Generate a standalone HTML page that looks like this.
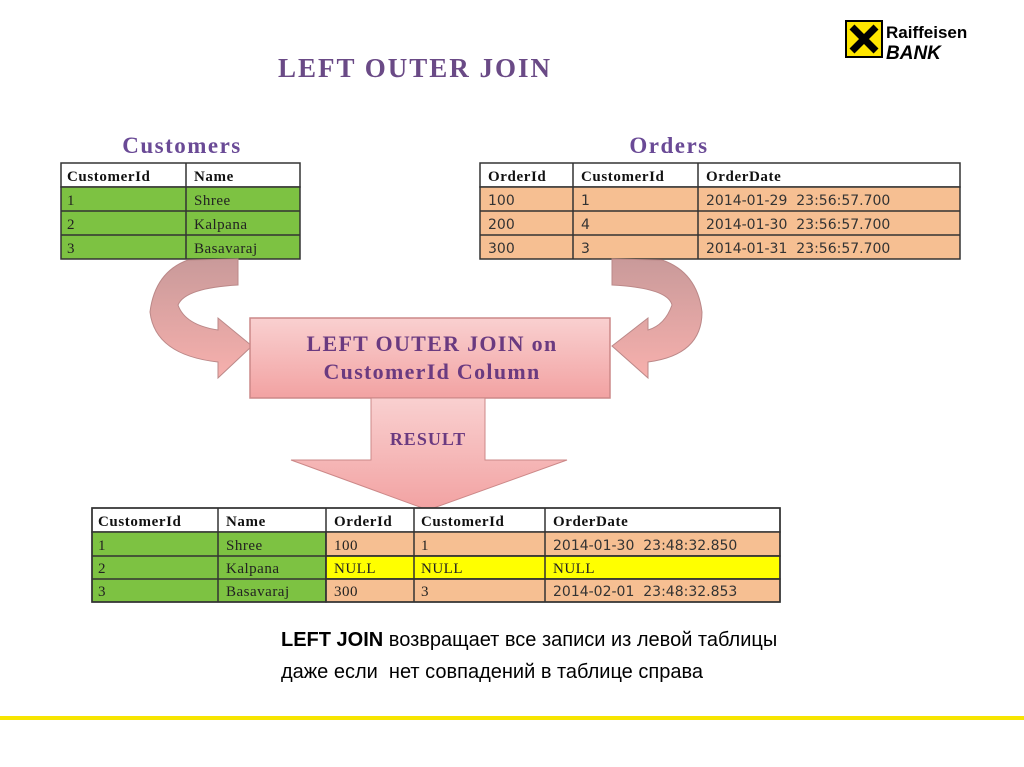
<!DOCTYPE html>
<html><head><meta charset="utf-8"><style>
body{margin:0;background:#fff;width:1024px;height:767px;overflow:hidden}
svg{display:block}
.s{font-family:"Liberation Serif",serif;font-size:15px;fill:#222;letter-spacing:0.5px}
.h{font-family:"Liberation Serif",serif;font-size:15px;font-weight:bold;fill:#111;letter-spacing:0.6px}
.v{font-family:"DejaVu Sans",sans-serif;font-size:14px;fill:#333}
</style></head><body>
<svg width="1024" height="767" viewBox="0 0 1024 767">
<defs>
<linearGradient id="pk" x1="0" y1="0" x2="0" y2="1"><stop offset="0" stop-color="#f9d0d0"/><stop offset="1" stop-color="#f2a2a2"/></linearGradient>
<linearGradient id="ar" x1="0" y1="0" x2="0" y2="1"><stop offset="0" stop-color="#c99a9a"/><stop offset="1" stop-color="#f7b0ad"/></linearGradient>
</defs>
<text x="415" y="77" text-anchor="middle" font-family="Liberation Serif,serif" font-weight="bold" font-size="27" letter-spacing="2" fill="#6a4a86">LEFT OUTER JOIN</text>
<!-- logo -->
<rect x="846" y="21" width="36" height="36" fill="#ffe600" stroke="#000" stroke-width="2"/>
<path d="M852,27 L876,51 M876,27 L852,51" stroke="#000" stroke-width="7"/>
<text x="886" y="38" font-family="Liberation Sans,sans-serif" font-weight="bold" font-size="17" fill="#000">Raiffeisen</text>
<text x="886" y="59" font-family="Liberation Sans,sans-serif" font-weight="bold" font-style="italic" font-size="19" fill="#000">BANK</text>

<text x="182" y="153" text-anchor="middle" font-family="Liberation Serif,serif" font-weight="bold" font-size="23" letter-spacing="1.5" fill="#6a4a96">Customers</text>
<text x="669" y="153" text-anchor="middle" font-family="Liberation Serif,serif" font-weight="bold" font-size="23" letter-spacing="1.5" fill="#6a4a96">Orders</text>

<!-- Customers table -->
<g stroke="#333" stroke-width="1.5">
<rect x="61" y="163" width="239" height="24" fill="#fff"/>
<rect x="61" y="187" width="239" height="72" fill="#7dc242"/>
<line x1="61" y1="211" x2="300" y2="211"/><line x1="61" y1="235" x2="300" y2="235"/>
<line x1="186" y1="163" x2="186" y2="259"/>
</g>
<text class="h" x="67" y="181">CustomerId</text><text class="h" x="194" y="181">Name</text>
<text class="s" x="67" y="205">1</text><text class="s" x="194" y="205">Shree</text>
<text class="s" x="67" y="229">2</text><text class="s" x="194" y="229">Kalpana</text>
<text class="s" x="67" y="253">3</text><text class="s" x="194" y="253">Basavaraj</text>

<!-- Orders table -->
<g stroke="#333" stroke-width="1.5">
<rect x="480" y="163" width="480" height="24" fill="#fff"/>
<rect x="480" y="187" width="480" height="72" fill="#f6bf92"/>
<line x1="480" y1="211" x2="960" y2="211"/><line x1="480" y1="235" x2="960" y2="235"/>
<line x1="573" y1="163" x2="573" y2="259"/><line x1="698" y1="163" x2="698" y2="259"/>
</g>
<text class="h" x="488" y="181">OrderId</text><text class="h" x="581" y="181">CustomerId</text><text class="h" x="706" y="181">OrderDate</text>
<text class="v" x="488" y="205">100</text><text class="v" x="581" y="205">1</text><text class="v" x="706" y="205">2014-01-29&#160;&#160;23:56:57.700</text>
<text class="v" x="488" y="229">200</text><text class="v" x="581" y="229">4</text><text class="v" x="706" y="229">2014-01-30&#160;&#160;23:56:57.700</text>
<text class="v" x="488" y="253">300</text><text class="v" x="581" y="253">3</text><text class="v" x="706" y="253">2014-01-31&#160;&#160;23:56:57.700</text>

<!-- curved arrows -->
<path d="M238,259 L238,285 Q185,288 178,305 Q185,325 218,330 L218,318 L252,346 L218,378 L218,362 Q155,355 150,312 Q155,272 188,260 Z" fill="url(#ar)" stroke="#b88" stroke-width="1"/>
<path d="M612,259 L612,285 Q668,288 672,305 Q665,325 648,330 L648,318 L612,346 L648,378 L648,362 Q702,355 702,312 Q697,272 662,260 Z" fill="url(#ar)" stroke="#b88" stroke-width="1"/>

<!-- join box -->
<rect x="250" y="318" width="360" height="80" fill="url(#pk)" stroke="#c88" stroke-width="1.5"/>
<text x="432" y="351" text-anchor="middle" font-family="Liberation Serif,serif" font-weight="bold" font-size="22" letter-spacing="1.3" fill="#6a3a80">LEFT OUTER JOIN on</text>
<text x="432" y="379" text-anchor="middle" font-family="Liberation Serif,serif" font-weight="bold" font-size="22" letter-spacing="1.3" fill="#6a3a80">CustomerId Column</text>

<!-- down arrow -->
<path d="M371,398 L485,398 L485,460 L567,460 L428,510 L291,460 L371,460 Z" fill="url(#pk)" stroke="#c88" stroke-width="1"/>
<text x="428" y="445" text-anchor="middle" font-family="Liberation Serif,serif" font-weight="bold" font-size="18" letter-spacing="1" fill="#6a3a80">RESULT</text>

<!-- result table -->
<g stroke="#333" stroke-width="1.5">
<rect x="92" y="508" width="688" height="24" fill="#fff"/>
<rect x="92" y="532" width="234" height="70" fill="#7dc242"/>
<rect x="326" y="532" width="454" height="24" fill="#f6bf92"/>
<rect x="326" y="556" width="454" height="23" fill="#ffff00"/>
<rect x="326" y="579" width="454" height="23" fill="#f6bf92"/>
<line x1="92" y1="556" x2="780" y2="556"/><line x1="92" y1="579" x2="780" y2="579"/>
<line x1="218" y1="508" x2="218" y2="602"/><line x1="326" y1="508" x2="326" y2="602"/>
<line x1="414" y1="508" x2="414" y2="602"/><line x1="545" y1="508" x2="545" y2="602"/>
<rect x="92" y="508" width="688" height="94" fill="none"/>
</g>
<text class="h" x="98" y="526">CustomerId</text><text class="h" x="226" y="526">Name</text><text class="h" x="334" y="526">OrderId</text><text class="h" x="421" y="526">CustomerId</text><text class="h" x="553" y="526">OrderDate</text>
<text class="s" x="98" y="550">1</text><text class="s" x="226" y="550">Shree</text><text class="s" x="334" y="550">100</text><text class="s" x="421" y="550">1</text><text class="v" x="553" y="550">2014-01-30&#160;&#160;23:48:32.850</text>
<text class="s" x="98" y="573">2</text><text class="s" x="226" y="573">Kalpana</text><text class="s" x="334" y="573">NULL</text><text class="s" x="421" y="573">NULL</text><text class="s" x="553" y="573">NULL</text>
<text class="s" x="98" y="596">3</text><text class="s" x="226" y="596">Basavaraj</text><text class="s" x="334" y="596">300</text><text class="s" x="421" y="596">3</text><text class="v" x="553" y="596">2014-02-01&#160;&#160;23:48:32.853</text>

<text x="281" y="646" font-family="Liberation Sans,sans-serif" font-size="20" fill="#000"><tspan font-weight="bold">LEFT JOIN</tspan> возвращает все записи из левой таблицы</text>
<text x="281" y="678" font-family="Liberation Sans,sans-serif" font-size="20" fill="#000">даже если&#160; нет совпадений в таблице справа</text>

<rect x="0" y="716" width="1024" height="4" fill="#f7e500"/>
</svg>
</body></html>
